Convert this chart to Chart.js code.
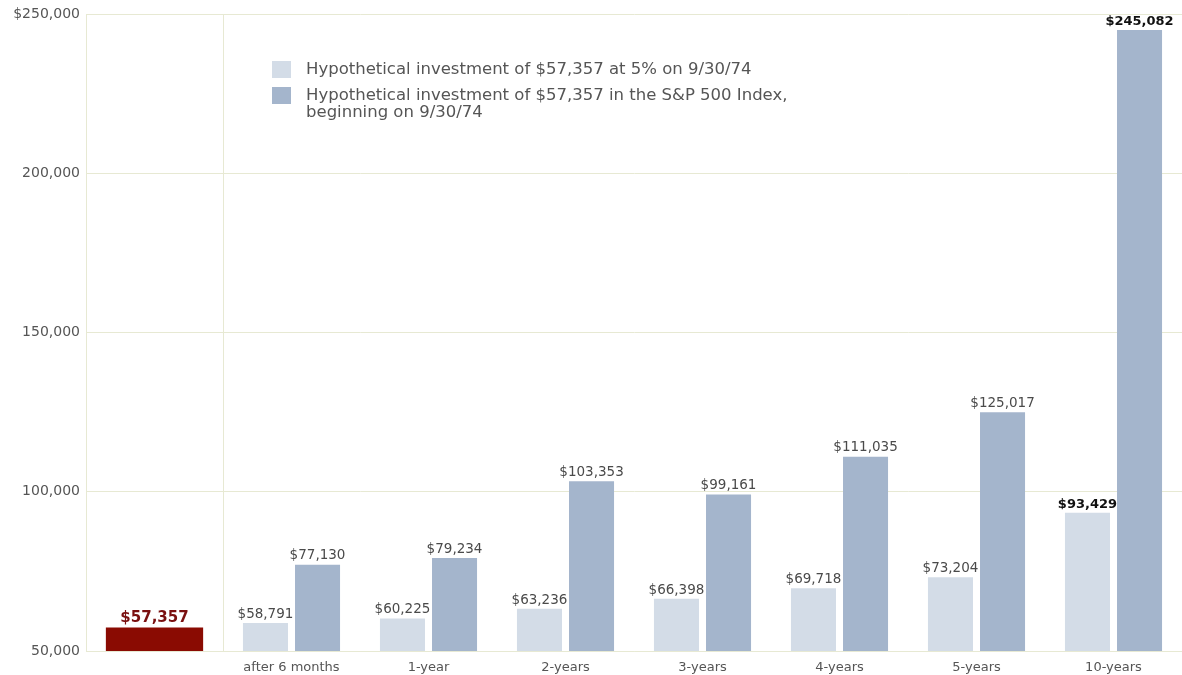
<!DOCTYPE html>
<html>
<head>
<meta charset="utf-8">
<script src="https://cdn.jsdelivr.net/npm/chart.js@4/dist/chart.umd.min.js"></script>
<style>
  html, body { margin: 0; padding: 0; background: #fff; }
  #wrap { width: 1182px; height: 675px; }
</style>
</head>
<body>
<div id="wrap"><canvas id="chart"></canvas></div>
<script>
// data
const categories = ['', 'after 6 months', '1-year', '2-years', '3-years', '4-years', '5-years', '10-years'];
const startValue = [57357, null, null, null, null, null, null, null];
const fixedRate = [null, 58791, 60225, 63236, 66398, 69718, 73204, 93429];
const sp500 = [null, 77130, 79234, 103353, 99161, 111035, 125017, 245082];
const legendLabels = [
    ['Hypothetical investment of $57,357 at 5% on 9/30/74'],
    ['Hypothetical investment of $57,357 in the S&P 500 Index,', 'beginning on 9/30/74']
];

const gridColor = '#e7e9d3';
const fontFamily = '"DejaVu Sans", Verdana, sans-serif';

function money(v) {
    return '$' + v.toLocaleString('en-US');
}

// value labels above the bars
const barLabels = {
    id: 'barLabels',
    afterDatasetsDraw(chart) {
        const ctx = chart.ctx;
        ctx.save();
        ctx.textAlign = 'center';
        ctx.textBaseline = 'bottom';
        chart.data.datasets.forEach((ds, di) => {
            const meta = chart.getDatasetMeta(di);
            meta.data.forEach((bar, i) => {
                const v = ds.data[i];
                if (v == null) return;
                let color = '#4a4a4a';
                let font = '13.5px ' + fontFamily;
                if (di === 0) {
                    color = '#7a1010';
                    font = 'bold 15px ' + fontFamily;
                } else if (i === categories.length - 1) {
                    color = '#111';
                    font = 'bold 13px ' + fontFamily;
                }
                ctx.fillStyle = color;
                ctx.font = font;
                ctx.fillText(money(v), bar.x, bar.y - 2);
            });
        });
        ctx.restore();
    }
};

// legend drawn inside the plot area
const insideLegend = {
    id: 'insideLegend',
    afterDraw(chart) {
        const ctx = chart.ctx;
        const colors = [chart.data.datasets[1].backgroundColor, chart.data.datasets[2].backgroundColor];
        let y = 61;
        ctx.save();
        ctx.font = '16.5px ' + fontFamily;
        ctx.textBaseline = 'middle';
        ctx.textAlign = 'left';
        legendLabels.forEach((lines, k) => {
            ctx.fillStyle = colors[k];
            ctx.fillRect(272, y, 19, 17);
            ctx.fillStyle = '#555';
            lines.forEach((t, j) => {
                ctx.fillText(t, 306, y + 9 + j * 17);
            });
            y += 26;
        });
        ctx.restore();
    }
};

new Chart(document.getElementById('chart').getContext('2d'), {
    type: 'bar',
    data: {
        labels: categories,
        datasets: [{
            label: 'Initial investment',
            data: startValue,
            backgroundColor: '#8a0b02',
            grouped: false,
            categoryPercentage: 1,
            barPercentage: 0.71
        }, {
            label: legendLabels[0].join(' '),
            data: fixedRate,
            backgroundColor: '#d3dce7',
            categoryPercentage: 0.76,
            barPercentage: 0.865
        }, {
            label: legendLabels[1].join(' '),
            data: sp500,
            backgroundColor: '#a4b5cc',
            categoryPercentage: 0.76,
            barPercentage: 0.865
        }]
    },
    options: {
        responsive: true,
        maintainAspectRatio: false,
        animation: false,
        layout: {
            padding: { top: 14, right: 0, bottom: 0, left: 0 }
        },
        plugins: {
            legend: { display: false },
            tooltip: { enabled: false }
        },
        scales: {
            x: {
                offset: true,
                afterFit: (scale) => { scale.height = 24; },
                grid: {
                    offset: true,
                    drawTicks: false,
                    color: (c) => (c.index <= 1 ? gridColor : 'rgba(0,0,0,0)')
                },
                border: { color: gridColor },
                ticks: {
                    color: '#555',
                    padding: 9,
                    font: { family: fontFamily, size: 13 }
                }
            },
            y: {
                min: 50000,
                max: 250000,
                afterFit: (scale) => { scale.width = 86; },
                grid: {
                    drawTicks: false,
                    color: gridColor
                },
                border: { color: gridColor },
                ticks: {
                    stepSize: 50000,
                    padding: 6,
                    color: '#555',
                    font: { family: fontFamily, size: 14 },
                    callback: (v) => (v === 250000 ? money(v) : v.toLocaleString('en-US'))
                }
            }
        }
    },
    plugins: [barLabels, insideLegend]
});
</script>
</body>
</html>
